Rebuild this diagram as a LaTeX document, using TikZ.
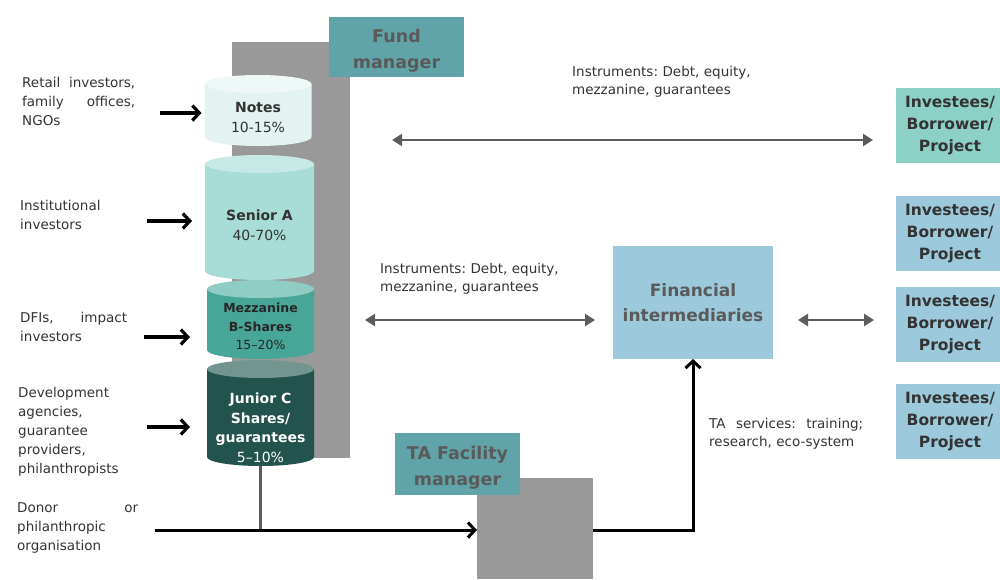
\documentclass[tikz,border=0pt]{standalone}
\usepackage{fontspec}
\setmainfont{DejaVu Sans}
\usetikzlibrary{arrows.meta}
\definecolor{textc}{HTML}{333333}
\definecolor{boxtext}{HTML}{5A5A5A}
\definecolor{barg}{HTML}{999999}
\definecolor{mgrteal}{HTML}{60A3A9}
\definecolor{notesfill}{HTML}{E3F3F1}
\definecolor{notestop}{HTML}{EEF8F6}
\definecolor{seniorfill}{HTML}{A8DCD6}
\definecolor{seniortop}{HTML}{C6E9E5}
\definecolor{mezzfill}{HTML}{47A698}
\definecolor{mezztop}{HTML}{8FCDC4}
\definecolor{juniorfill}{HTML}{22534C}
\definecolor{juniortop}{HTML}{73958F}
\definecolor{finblue}{HTML}{9CC9DB}
\definecolor{invteal}{HTML}{8DD0C6}
\definecolor{arrowgray}{HTML}{5C5C5C}
\tikzset{
  lbl/.style={text=textc, font=\fontsize{13.5}{19}\selectfont, inner sep=0pt},
  srclbl/.style={lbl, align=left, text width=#1, anchor=north west},
  bar/.style={fill=barg, draw=none, inner sep=0pt, outer sep=0pt, anchor=north west},
  mgrbox/.style={fill=mgrteal, inner sep=0pt, outer sep=0pt, anchor=north west},
  mgrtxt/.style={text=boxtext, font=\bfseries\fontsize{17.5}{26}\selectfont,
    align=center, inner sep=0pt},
  finbox/.style={fill=finblue, text=boxtext, font=\bfseries\fontsize{17}{25}\selectfont,
    align=center, inner sep=0pt, outer sep=0pt, anchor=north west,
    minimum width=160pt, minimum height=113pt},
  invbox/.style={fill=#1, text=textc, font=\bfseries\fontsize{15.5}{22}\selectfont,
    align=center, inner sep=0pt, outer sep=0pt, anchor=north west,
    minimum width=108pt, minimum height=75pt},
  % tranche drawn as a cylinder inside a plain rectangle node
  cyl/.style n args={3}{rectangle, inner sep=0pt, outer sep=0pt, minimum width=2*#3,
    path picture={
      \fill[#1] ([yshift=-9pt]path picture bounding box.north west)
        -- ([yshift=9pt]path picture bounding box.south west)
        arc[start angle=180, end angle=360, x radius=#3, y radius=9pt]
        -- ([yshift=-9pt]path picture bounding box.north east) -- cycle;
      \fill[#2] ([yshift=-9pt]path picture bounding box.north)
        ellipse[x radius=#3, y radius=9pt];
    }},
  cyltxt/.style={align=center, inner sep=0pt, text=textc},
  inarrow/.style={-{Straight Barb[length=7pt,width=15pt]}, line width=3.2pt, black},
  dblarrow/.style={{Triangle[length=10pt,width=12pt]}-{Triangle[length=10pt,width=12pt]},
    line width=2.8pt, draw=arrowgray},
  jline/.style={draw=arrowgray, line width=2.6pt},
  taarrow/.style={-{Straight Barb[length=7pt,width=15pt]}, line width=3pt, black}
}
\begin{document}
\frenchspacing
\begin{tikzpicture}[x=1pt,y=-1pt]
  \useasboundingbox (0,0) rectangle (1000,579);

  % fund side
  \node[bar, minimum width=118pt, minimum height=416pt] (fundbar) at (232,42) {};
  \node[mgrbox, minimum width=135pt, minimum height=60pt] (fundmgr) at (329,17) {};
  \node[mgrtxt] (fundmgr-txt) at (396.5,51) {Fund\\manager};

  \node[cyl={notesfill}{notestop}{53.5pt}, minimum height=71pt] (notes) at (258,110.5) {};
  \node[cyl={seniorfill}{seniortop}{54.5pt}, minimum height=125pt] (seniora) at (259.5,217.5) {};
  \node[cyl={mezzfill}{mezztop}{53.5pt}, minimum height=79pt] (mezz) at (260.5,319.5) {};
  \node[cyl={juniorfill}{juniortop}{53.5pt}, minimum height=106pt] (junior) at (260.5,413) {};

  \node[cyltxt, font=\fontsize{14}{20}\selectfont] (notes-txt) at (258,117)
    {\textbf{Notes}\\10-15\%};
  \node[cyltxt, font=\fontsize{14}{19.5}\selectfont] (seniora-txt) at (259.5,225.5)
    {\textbf{Senior A}\\40-70\%};
  \node[cyltxt, font=\fontsize{12.5}{18.5}\selectfont, text=black!85] (mezz-txt) at (260.5,326.5)
    {\textbf{Mezzanine}\\\textbf{B-Shares}\\15--20\%};
  \node[cyltxt, font=\fontsize{14}{19.5}\selectfont, text=white] (junior-txt) at (260.5,428)
    {\textbf{Junior C}\\\textbf{Shares/}\\\textbf{guarantees}\\5--10\%};

  % sources
  \node[srclbl=113pt] (retail) at (22,77)
    {Retail\hfill investors,\\family\hfill offices,\\NGOs};
  \node[srclbl=110pt] (instit) at (20,200) {Institutional\\investors};
  \node[srclbl=107pt] (dfis) at (20,312) {DFIs,\hfill impact\\investors};
  \node[srclbl=120pt] (devag) at (18,387)
    {Development\\agencies,\\guarantee\\providers,\\philanthropists};
  \node[srclbl=121pt] (donor) at (17,502) {Donor\hfill or\\philanthropic\\organisation};

  \draw[inarrow] ([xshift=-45pt]notes.west |- 0,113) -- ([xshift=-3pt]notes.west |- 0,113);
  \draw[inarrow] ([xshift=-58pt]seniora.west |- 0,221) -- ([xshift=-13pt]seniora.west |- 0,221);
  \draw[inarrow] ([xshift=-63pt]mezz.west |- 0,337) -- ([xshift=-17pt]mezz.west |- 0,337);
  \draw[inarrow] ([xshift=-60pt]junior.west |- 0,427) -- ([xshift=-17pt]junior.west |- 0,427);

  % TA facility
  \node[bar, minimum width=116pt, minimum height=101pt] (tagray) at (477,478) {};
  \node[mgrbox, minimum width=125pt, minimum height=62pt] (tamgr) at (395,433) {};
  \node[mgrtxt] (tamgr-txt) at (457.5,467.5) {TA Facility\\manager};

  \coordinate (dstart) at (155,530);
  \draw[jline] (junior.south) -- (junior.south |- dstart);
  \draw[taarrow] (dstart) -- (tagray.west |- dstart);

  % intermediaries and investees
  \node[finbox] (finint) at (613,246) {Financial\\intermediaries};
  \node[invbox=invteal] (inv1) at (896,88) {Investees/\\Borrower/\\Project};
  \node[invbox=finblue] (inv2) at (896,196) {Investees/\\Borrower/\\Project};
  \node[invbox=finblue] (inv3) at (896,287) {Investees/\\Borrower/\\Project};
  \node[invbox=finblue] (inv4) at (896,384) {Investees/\\Borrower/\\Project};

  \draw[taarrow] (tagray.east |- dstart) -| (finint.south);

  \draw[dblarrow] ([xshift=42pt]fundbar.east |- 0,140) -- ([xshift=-23pt]inv1.west |- 0,140);
  \draw[dblarrow] ([xshift=15pt]fundbar.east |- 0,320) -- ([xshift=-18pt]finint.west |- 0,320);
  \draw[dblarrow] ([xshift=25pt]finint.east |- 0,320) -- ([xshift=-22pt]inv3.west |- 0,320);

  \node[srclbl=190pt, font=\fontsize{13.5}{18}\selectfont] (instr-top) at (572,66)
    {Instruments: Debt, equity,\\mezzanine, guarantees};
  \node[srclbl=190pt, font=\fontsize{13.5}{18}\selectfont] (instr-mid) at (380,263)
    {Instruments: Debt, equity,\\mezzanine, guarantees};
  \node[srclbl=154pt, font=\fontsize{13.5}{18}\selectfont] (taserv) at (709,418)
    {TA\hfill services:\hfill training;\\research, eco-system};
\end{tikzpicture}
\end{document}
